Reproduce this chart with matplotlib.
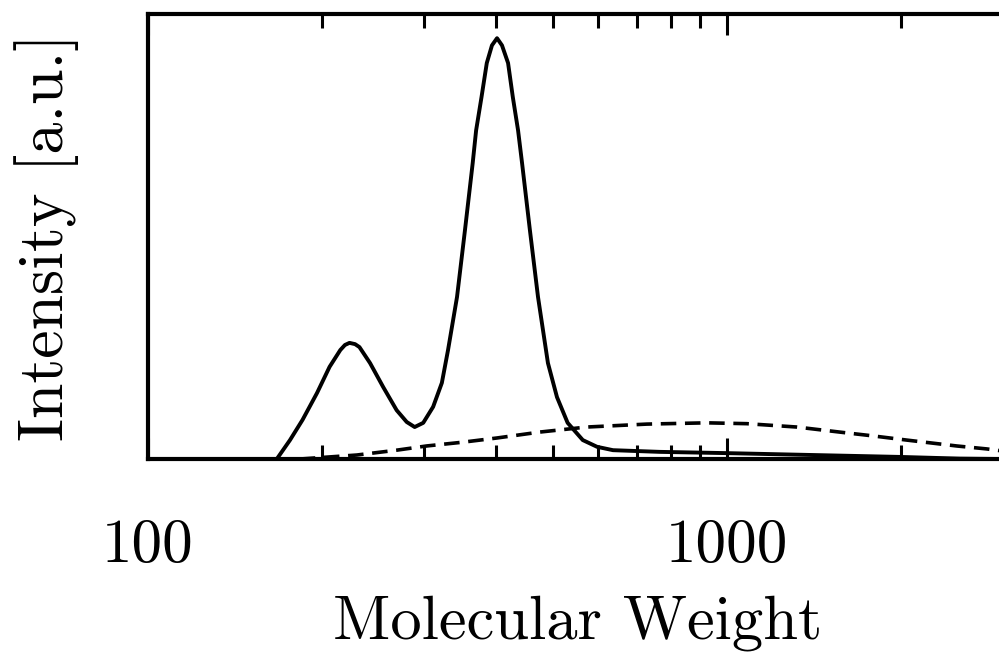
import matplotlib
matplotlib.use("Agg")
import matplotlib.pyplot as plt

# solid curve: two sharp peaks
solid_mw = [167, 176, 185, 196, 206, 215, 219, 223, 228, 232,
            242, 255, 269, 280, 289, 299, 311, 322, 330, 342,
            353, 364, 369, 377, 385, 393, 401, 409, 419, 427,
            436, 443, 457, 472, 491, 509, 531, 564, 597, 636,
            766, 1000, 1408, 1990, 2524, 3000]
solid_int = [0.0, 0.045, 0.093, 0.157, 0.219, 0.259, 0.271, 0.276, 0.273, 0.266,
             0.228, 0.171, 0.116, 0.088, 0.076, 0.086, 0.124, 0.181, 0.259, 0.385,
             0.544, 0.703, 0.781, 0.860, 0.941, 0.983, 1.0, 0.983, 0.941, 0.860,
             0.781, 0.703, 0.544, 0.385, 0.228, 0.147, 0.086, 0.045, 0.029, 0.021,
             0.017, 0.014, 0.0095, 0.005, 0.001, 0.0]

# dashed curve: broad low distribution
dash_mw = [183, 229.6, 269, 303, 350, 401, 475, 573, 728, 924,
           1083, 1321, 1567, 1787, 2046, 2496, 2812, 2999]
dash_int = [0.0, 0.0095, 0.021, 0.031, 0.040, 0.050, 0.064, 0.076, 0.083, 0.086,
            0.084, 0.076, 0.064, 0.055, 0.045, 0.031, 0.024, 0.019]

major_ticks = [100, 1000]
major_labels = ["100", "1000"]
minor_ticks = [200, 300, 400, 500, 600, 700, 800, 900, 2000, 3000]

plt.rcParams["font.family"] = "cmr10"
plt.rcParams["axes.unicode_minus"] = False
plt.rcParams["mathtext.fontset"] = "cm"

fig = plt.figure(figsize=(9.99, 6.58), dpi=100)
# axes runs past the right edge of the figure, as in the original crop
ax = fig.add_axes([0.148, 0.3024, 0.856, 0.676])

ax.plot(solid_mw, solid_int, color="black", lw=2.8, solid_joinstyle="round")
line, = ax.plot(dash_mw, dash_int, color="black", lw=2.6)
line.set_dashes([4.3, 2.4])

ax.set_xscale("log")
ax.set_xlim(100, 3000)
ax.set_ylim(0, 1.057)

ax.set_xticks(major_ticks, labels=major_labels)
ax.set_xticks(minor_ticks, minor=True)
ax.xaxis.set_minor_formatter(matplotlib.ticker.NullFormatter())
ax.set_yticks([])

ax.tick_params(axis="x", which="both", direction="in", top=True, bottom=True,
               width=2.2, color="black")
ax.tick_params(axis="x", which="major", length=15, pad=43, labelsize=44)
ax.tick_params(axis="x", which="minor", length=10)

for s in ax.spines.values():
    s.set_linewidth(3.0)

ax.set_xlabel("Molecular Weight", fontsize=45, va="center")
ax.xaxis.set_label_coords(0.502, -0.368)
ax.set_ylabel("Intensity [a.u.]", fontsize=46, va="center", ha="center")
ax.yaxis.set_label_coords(-0.118, 0.499)

fig.savefig("out.png", dpi=100)
